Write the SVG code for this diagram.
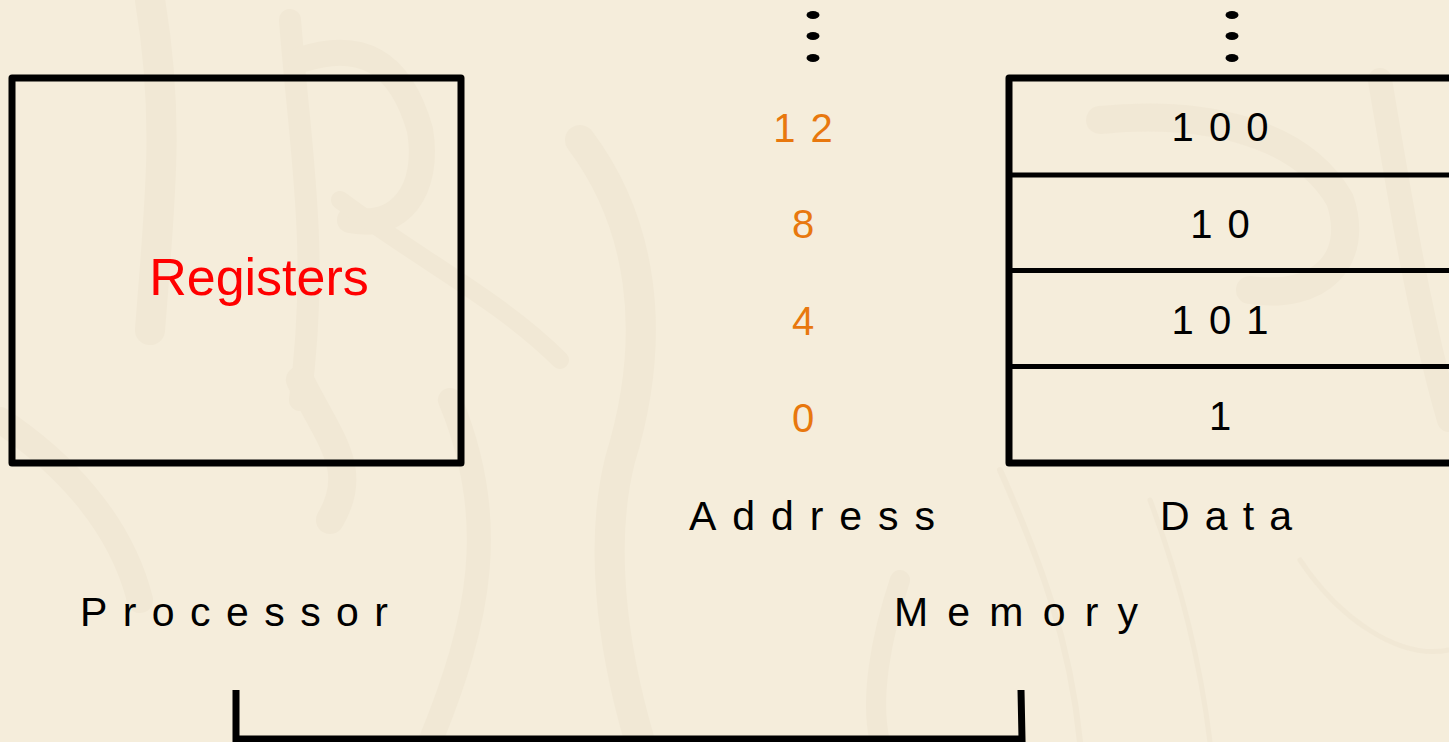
<svg xmlns="http://www.w3.org/2000/svg" width="1449" height="742" viewBox="0 0 1449 742">
<style>
.t{font-family:"Liberation Sans",Arial,sans-serif;}
.lbl{font-size:41px;fill:#000;}
.dig{font-size:40px;fill:#000;text-anchor:middle;letter-spacing:2px;}
.adr{font-size:40px;fill:#E8780E;text-anchor:middle;letter-spacing:2px;}
.box{fill:none;stroke:#000;stroke-width:7;stroke-linejoin:round;}
.cell{stroke:#000;stroke-width:5;}
.bg{fill:none;stroke:#EDE3CE;stroke-linecap:round;}
</style>
<rect x="0" y="0" width="1449" height="742" fill="#F5EDDB"/>
<g id="background" opacity="0.45">
<path class="bg" d="M150 0 C170 120 160 200 150 330" stroke-width="30"/>
<path class="bg" d="M290 20 C300 150 320 250 300 400" stroke-width="22"/>
<path class="bg" d="M300 60 C360 40 400 60 420 130 C430 190 400 230 350 220" stroke-width="26"/>
<path class="bg" d="M340 200 C420 260 500 300 560 360" stroke-width="18"/>
<path class="bg" d="M300 380 C330 440 360 470 330 520" stroke-width="28"/>
<path class="bg" d="M580 140 C640 220 660 330 620 460 C600 540 610 640 640 742" stroke-width="30"/>
<path class="bg" d="M450 400 C500 520 480 620 430 742" stroke-width="24"/>
<path class="bg" d="M1100 120 C1200 110 1300 130 1340 200 C1360 260 1320 300 1250 290" stroke-width="28"/>
<path class="bg" d="M1380 80 C1400 200 1420 320 1449 420" stroke-width="24"/>
<path class="bg" d="M1000 470 C1040 560 1070 640 1080 742" stroke-width="6"/>
<path class="bg" d="M1150 500 C1180 580 1200 660 1210 742" stroke-width="5"/>
<path class="bg" d="M1300 560 C1340 620 1400 660 1449 650" stroke-width="5"/>
<path class="bg" d="M900 580 C880 640 870 700 880 742" stroke-width="20"/>
<path class="bg" d="M0 420 C60 460 120 520 140 600" stroke-width="26"/>
</g>
<g id="processor">
<rect class="box" x="12" y="78" width="449" height="385"/>
<text class="t" x="259" y="295" font-size="52" fill="#FF0000" text-anchor="middle">Registers</text>
</g>
<g id="memory">
<path class="box" d="M1449 78 H1009 V463 H1449"/>
<line class="cell" x1="1009" y1="175" x2="1449" y2="175"/>
<line class="cell" x1="1009" y1="270.5" x2="1449" y2="270.5"/>
<line class="cell" x1="1009" y1="366.5" x2="1449" y2="366.5"/>
<text class="t dig" x="1221" y="141">1 0 0</text>
<text class="t dig" x="1221" y="238">1 0</text>
<text class="t dig" x="1221" y="334">1 0 1</text>
<text class="t dig" x="1221" y="430">1</text>
<g id="data-dots" fill="#000">
<ellipse cx="1232" cy="15" rx="6.5" ry="4"/>
<ellipse cx="1232" cy="36" rx="6.5" ry="4"/>
<ellipse cx="1232" cy="58" rx="6.5" ry="4"/>
</g>
</g>
<g id="addresses">
<text class="t adr" x="804" y="142">1 2</text>
<text class="t adr" x="804" y="238">8</text>
<text class="t adr" x="804" y="335">4</text>
<text class="t adr" x="804" y="432">0</text>
<g id="address-dots" fill="#000">
<ellipse cx="813" cy="15" rx="6.5" ry="4"/>
<ellipse cx="813" cy="36" rx="6.5" ry="4"/>
<ellipse cx="813" cy="58" rx="6.5" ry="4"/>
</g>
</g>
<g id="labels">
<text class="t lbl" x="689" y="530" textLength="246" lengthAdjust="spacing">Address</text>
<text class="t lbl" x="1160" y="530" textLength="132" lengthAdjust="spacing">Data</text>
<text class="t lbl" x="80" y="626" textLength="308" lengthAdjust="spacing">Processor</text>
<text class="t lbl" x="894" y="626" textLength="244" lengthAdjust="spacing">Memory</text>
</g>
<g id="connectors">
<path d="M236 690 V739 H1022 L1021 690" fill="none" stroke="#000" stroke-width="7" stroke-linejoin="miter"/>
</g>
</svg>
